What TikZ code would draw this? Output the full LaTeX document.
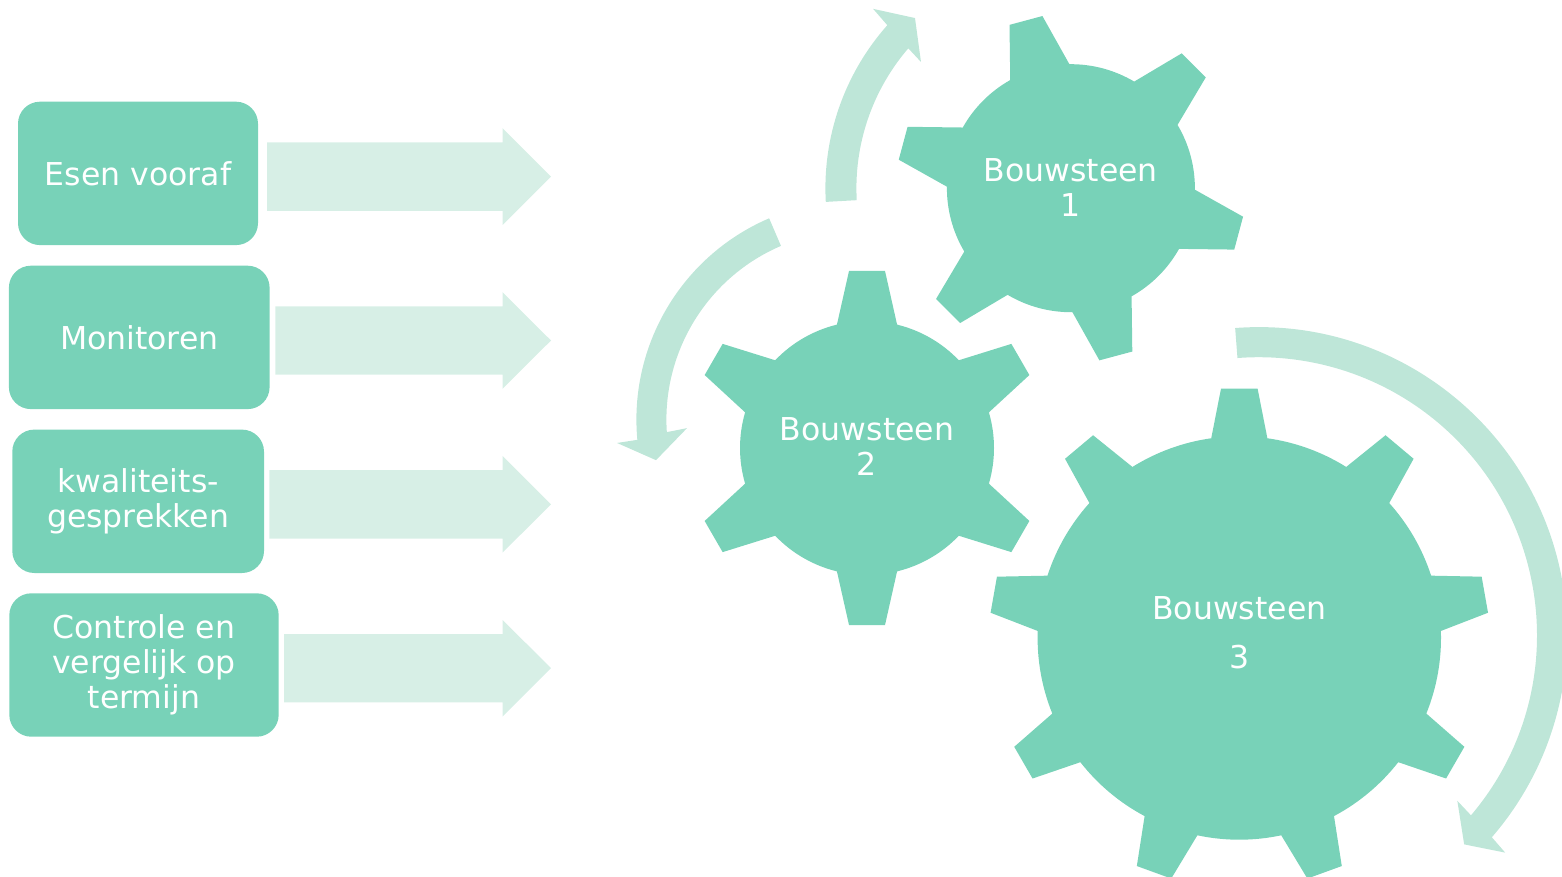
\documentclass[tikz,border=0pt]{standalone}
\usepackage{fontspec}
\setmainfont{DejaVu Sans}
\definecolor{gearc}{HTML}{78D2B8}
\definecolor{ringc}{HTML}{BEE6D8}
\definecolor{blockc}{HTML}{D7EFE6}
\begin{document}
\begin{tikzpicture}[x=1pt,y=-1pt,
  box/.style={fill=gearc, rounded corners=22pt, minimum height=143.4pt, inner sep=0pt,
    text=white, align=center, font=\fontsize{31.5}{34.8}\selectfont},
  geartext/.style={text=white, align=center, font=\fontsize{31.5}{35}\selectfont, inner sep=0pt},
  gearfill/.style={fill=gearc},
  ringarrow/.style={fill=ringc},
  blockarrow/.style={fill=blockc}]
\useasboundingbox (0,0) rectangle (1562,877);
\clip (0,0) rectangle (1562,877);

% left boxes
\node[box, minimum width=240pt]   (b1) at (138,173.4)    {Esen vooraf};
\node[box, minimum width=260.7pt] (b2) at (139.25,337.4) {Monitoren};
\node[box, minimum width=251.7pt] (b3) at (138.15,501.3) {kwaliteits-\\gesprekken};
\node[box, minimum width=269.4pt] (b4) at (144,665)      {Controle en\\vergelijk op\\termijn};

% block arrows
\foreach \yy/\xx in {176.6/267, 340.5/275.4, 504.3/269.3, 668.2/284} {
  \fill[blockarrow] (\xx,\yy-34.2) -- (502.5,\yy-34.2) -- (502.5,\yy-48.4) -- (551,\yy)
     -- (502.5,\yy+48.4) -- (502.5,\yy+34.2) -- (\xx,\yy+34.2) -- cycle;
}

% circular arrow around gear 1
\begin{scope}[shift={(1070.9,188.2)}]
\fill[ringarrow] (176.8:245.5) arc[start angle=176.8, end angle=221.6, radius=245.5]
  -- (222.2:267) -- (227.5:230.8) -- (220.1:196) -- (220.7:214.5)
  arc[start angle=220.7, end angle=176.8, radius=214.5] -- cycle;
\end{scope}

% circular arrow left of gear 2
\begin{scope}[shift={(855.4,419.6)}]
\fill[ringarrow] (246.8:219) arc[start angle=246.8, end angle=174.7, radius=219]
  -- (174.4:239.5) -- (168.5:203.5) -- (177.1:168.6) -- (176.2:189)
  arc[start angle=176.2, end angle=246.8, radius=189] -- cycle;
\end{scope}

% circular arrow right of gear 3
\begin{scope}[shift={(1258.8,635.4)}]
\fill[ringarrow] (265.6:308.3) arc[start angle=265.6, end angle=400.9, radius=308.3]
  -- (401.4:328.5) -- (405.5:293) -- (399.8:258.4) -- (400.3:278.2)
  arc[start angle=400.3, end angle=265.6, radius=278.2] -- cycle;
\end{scope}

% gear 1
\begin{scope}[shift={(1070.9,188.2)}]
\fill[gearfill] (0.7:124)
  \foreach \a in {15,75,...,315} {
    -- (\a-14.3:124) -- (\a-5.6:174.5) -- (\a+5.6:174.5) -- (\a+14.3:124)
    arc[start angle=\a+14.3, end angle=\a+45.7, radius=124]
  } -- cycle;
\end{scope}

% gear 2
\begin{scope}[shift={(867,448)}]
\fill[gearfill] (16.3:127)
  \foreach \a in {30,90,...,330} {
    -- (\a-13.7:127) -- (\a-5.8:178) -- (\a+5.8:178) -- (\a+13.7:127)
    arc[start angle=\a+13.7, end angle=\a+46.3, radius=127]
  } -- cycle;
\end{scope}

% gear 3
\begin{scope}[shift={(1239.3,638)}]
\fill[gearfill] (22:201.7)
  \foreach \a in {30,70,...,350} {
    -- (\a-8:201.7) -- (\a-4.2:250) -- (\a+4.2:250) -- (\a+8:201.7)
    arc[start angle=\a+8, end angle=\a+32, radius=201.7]
  } -- cycle;
\end{scope}

% gear labels
\node[geartext] (t1) at (1070.9,187.5) {Bouwsteen\\1};
\node[geartext] (t2) at (867,446.7)    {Bouwsteen\\2};
\node[geartext] (t3) at (1239.3,633)   {Bouwsteen\\[14pt]3};
\end{tikzpicture}
\end{document}
